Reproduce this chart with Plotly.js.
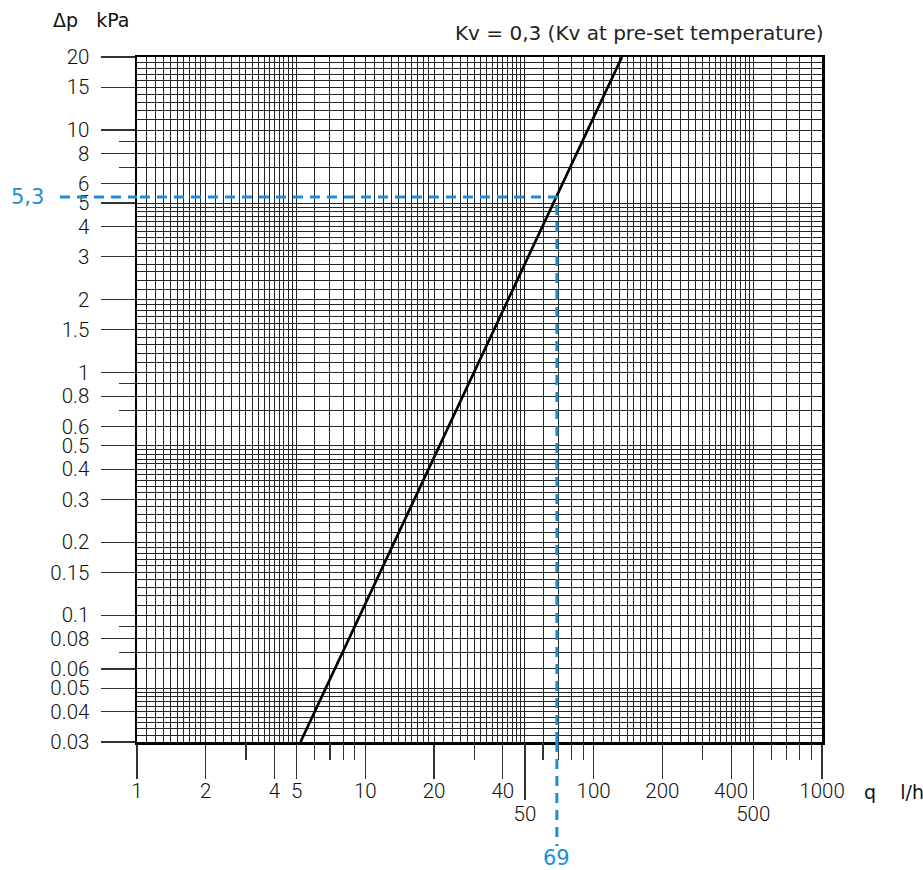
<!DOCTYPE html>
<html>
<head>
<meta charset="utf-8">
<script src="https://cdn.plot.ly/plotly-3.0.1.min.js"></script>
<style>html,body{margin:0;padding:0;background:#fff;}#chart{width:923px;height:870px;}</style>
</head>
<body>
<div id="chart"></div>
<script>
// ---- data ----
const flowQ = [5.2, 133];          // l/h, line end points
const pressureDp = [0.03, 20];     // kPa
const readQ = 69;                  // reading example
const readDp = 5.3;
const readQLabel = "69";
const readDpLabel = "5,3";

// tick values / labels
const xMajorTicks = [1, 2, 4, 5, 10, 20, 40, 100, 200, 400, 1000];
const xMajorText = ["1", "2", "4", "5", "10", "20", "40", "100", "200", "400", "1000"];
const xShortTicks = [3, 6, 7, 8, 9, 30, 60, 70, 80, 90, 300, 600, 700, 800, 900];
const xLowTicks = [50, 500];
const xLowText = ["50", "500"];
const yMajorTicks = [20, 15, 10, 8, 6, 5, 4, 3, 2, 1.5, 1, 0.8, 0.6, 0.5, 0.4, 0.3, 0.2, 0.15, 0.1, 0.08, 0.06, 0.05, 0.04, 0.03];
const yMajorText = ["20", "15", "10", "8", "6", "5", "4", "3", "2", "1.5", "1", "0.8", "0.6", "0.5", "0.4", "0.3", "0.2", "0.15", "0.1", "0.08", "0.06", "0.05", "0.04", "0.03"];
const yShortTicks = [9, 7, 0.9, 0.7, 0.09, 0.07];
// grid subdivision per decade: [from, to, step] (in units of decade base)
const gridRules = [[1, 2, 0.1], [2, 5, 0.2], [5, 10, 1]];
const xDecades = [1, 10, 100];
const yDecades = [0.01, 0.1, 1, 10];
const xLimits = [1, 1000];
const yLimits = [0.03, 20];

const titleText = "Kv = 0,3 (Kv at pre-set temperature)";
const yUnitText = "Δp&nbsp;&nbsp;&nbsp;kPa";
const xUnitText = "q&nbsp;&nbsp;&nbsp;&nbsp;l/h";

function gridValues(decades, lim) {
  const out = [];
  decades.forEach(d => {
    gridRules.forEach(r => {
      const n = Math.round((r[1] - r[0]) / r[2]);
      for (let i = 0; i <= n; i++) {
        const v = parseFloat(((r[0] + i * r[2]) * d).toPrecision(6));
        if (v >= lim[0] - 1e-9 && v <= lim[1] + 1e-9 && out.indexOf(v) < 0) out.push(v);
      }
    });
  });
  return out;
}
const xGrid = gridValues(xDecades, xLimits);
const yGrid = gridValues(yDecades, yLimits);

// ---- layout constants ----
const L = 137, R = 822, T = 57, B = 742, W = 923, H = 870;
const px = v => (v - L) / (R - L);
const py = v => (B - v) / (B - T);
const BLUE = "#1b8fd6";
const GRID = "#262626";
const TICKC = "#333";
const NOTICK = "rgba(0,0,0,0)";
const tickFont = {family: "Roboto, 'DejaVu Sans', sans-serif", size: 20.5, color: "#111", weight: 300};
const textFont = "'DejaVu Sans', Arial, sans-serif";
const xr = [Math.log10(xLimits[0]), Math.log10(xLimits[1])];
const yr = [Math.log10(yLimits[0]), Math.log10(yLimits[1])];

const traces = [
  {x: flowQ, y: pressureDp, type: "scatter", mode: "lines", line: {color: "#000", width: 2.7}, hoverinfo: "skip", showlegend: false},
  {x: [readQ, readQ, xLimits[0]], y: [yLimits[0], readDp, readDp], type: "scatter", mode: "lines",
   line: {color: BLUE, width: 3, dash: "10px,7px"}, hoverinfo: "skip", showlegend: false},
  {x: [], y: [], xaxis: "x2", yaxis: "y2", type: "scatter", showlegend: false},
  {x: [], y: [], xaxis: "x3", yaxis: "y", type: "scatter", showlegend: false},
  {x: [], y: [], xaxis: "x4", yaxis: "y", type: "scatter", showlegend: false},
  {x: [], y: [], xaxis: "x5", yaxis: "y", type: "scatter", showlegend: false}
];

const baseAxis = {type: "log", autorange: false, fixedrange: true, zeroline: false};
const overX = (extra) => Object.assign({}, baseAxis, {range: xr, overlaying: "x", anchor: "y", side: "bottom",
  tickmode: "array", showgrid: false, showline: false, tickwidth: 1.2, ticks: "outside"}, extra);

const layout = {
  width: W, height: H,
  margin: {l: L, r: W - R, t: T, b: H - B, pad: 0},
  paper_bgcolor: "#fff", plot_bgcolor: "#fff",
  showlegend: false,
  xaxis: Object.assign({}, baseAxis, {
    range: xr, tickmode: "array", tickvals: xMajorTicks, ticktext: xMajorText, showticklabels: false,
    ticks: "outside", ticklen: 34, tickwidth: 1.2, tickcolor: TICKC,
    showline: true, linecolor: "#000", linewidth: 2.5, mirror: true,
    showgrid: true, gridcolor: GRID, gridwidth: 1,
    minor: {tickmode: "array", tickvals: xGrid, showgrid: true, gridcolor: GRID, gridwidth: 1, ticks: ""}
  }),
  xaxis2: overX({tickvals: xShortTicks, showticklabels: false, ticklen: 17, tickcolor: TICKC}),
  xaxis3: overX({tickvals: xLowTicks, showticklabels: false, ticklen: 57, tickcolor: TICKC}),
  xaxis4: overX({tickvals: xMajorTicks, ticktext: xMajorText, ticklen: 30, tickcolor: NOTICK, tickfont: tickFont, ticklabelstandoff: 0}),
  xaxis5: overX({tickvals: xLowTicks, ticktext: xLowText, ticklen: 53, tickcolor: NOTICK, tickfont: tickFont, ticklabelstandoff: 0}),
  yaxis: Object.assign({}, baseAxis, {
    range: yr, tickmode: "array", tickvals: yMajorTicks, ticktext: yMajorText,
    ticks: "outside", ticklen: 34, tickwidth: 1.2, tickcolor: TICKC,
    showline: true, linecolor: "#000", linewidth: 2.5, mirror: true,
    showgrid: true, gridcolor: GRID, gridwidth: 1,
    minor: {tickmode: "array", tickvals: yGrid, showgrid: true, gridcolor: GRID, gridwidth: 1, ticks: ""},
    tickfont: tickFont, ticklabelstandoff: 7
  }),
  yaxis2: Object.assign({}, baseAxis, {
    range: yr, overlaying: "y", anchor: "x", side: "left",
    tickmode: "array", tickvals: yShortTicks, showticklabels: false,
    ticks: "outside", ticklen: 17, tickwidth: 1.2, tickcolor: TICKC,
    showgrid: false, showline: false
  }),
  shapes: [
    // dashed extensions outside the frame
    {type: "line", xref: "paper", yref: "y", x0: px(60), x1: 0, y0: readDp, y1: readDp,
     line: {color: BLUE, width: 3, dash: "10px,7px"}},
    {type: "line", xref: "x", yref: "paper", x0: readQ, x1: readQ, y0: 0, y1: py(846),
     line: {color: BLUE, width: 3, dash: "10px,7px"}}
  ],
  annotations: [
    {text: titleText, xref: "paper", yref: "paper", x: px(826), y: py(33), xanchor: "right", yanchor: "middle",
     showarrow: false, font: {family: textFont, size: 20, color: "#222"}},
    {text: yUnitText, xref: "paper", yref: "paper", x: px(51), y: py(20), xanchor: "left", yanchor: "middle",
     showarrow: false, font: {family: textFont, size: 19, color: "#111"}},
    {text: xUnitText, xref: "paper", yref: "paper", x: px(862), y: py(792), xanchor: "left", yanchor: "middle",
     showarrow: false, font: {family: textFont, size: 19, color: "#111"}},
    {text: readDpLabel, xref: "paper", yref: "y", x: px(46), y: Math.log10(readDp), xanchor: "right", yanchor: "middle",
     showarrow: false, font: {family: textFont, size: 21, color: BLUE}},
    {text: readQLabel, xref: "x", yref: "paper", x: Math.log10(readQ), y: py(858), xanchor: "center", yanchor: "middle",
     showarrow: false, font: {family: textFont, size: 21, color: BLUE}}
  ]
};

Plotly.newPlot("chart", traces, layout, {staticPlot: true, displayModeBar: false});
</script>
</body>
</html>
